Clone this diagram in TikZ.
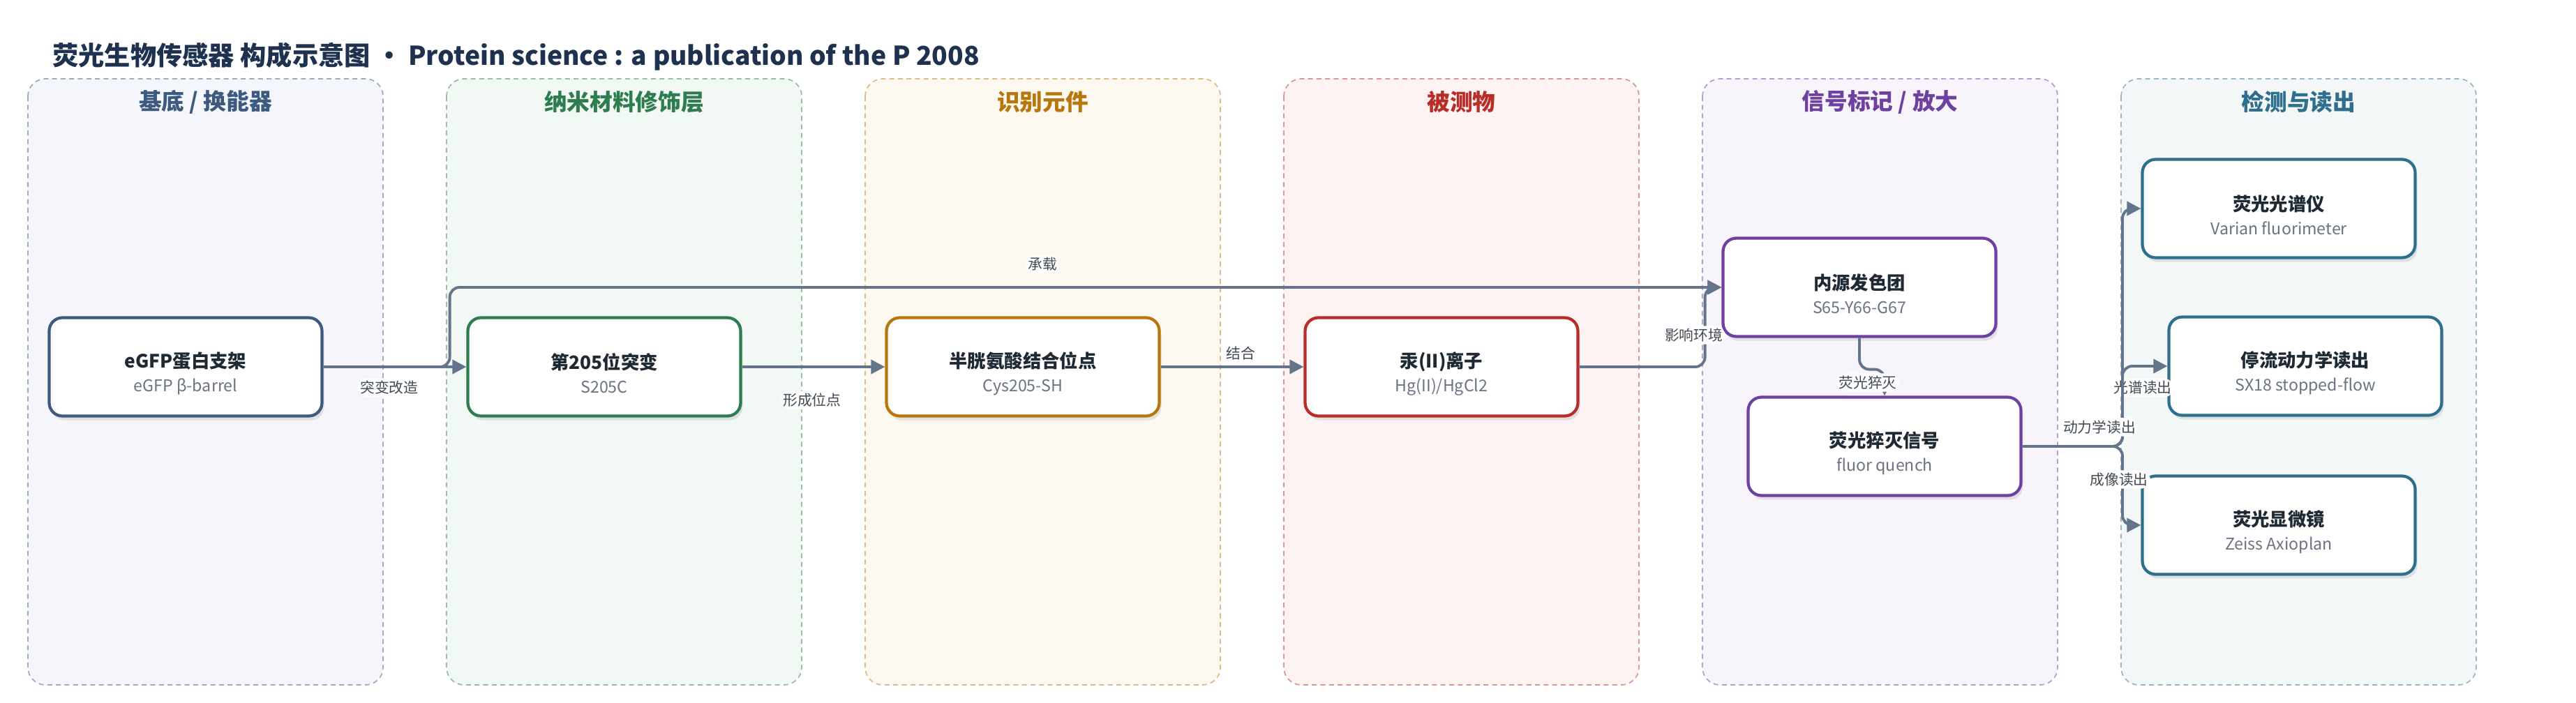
\documentclass[tikz,border=0pt]{standalone}
\usepackage{fontspec}
\setmainfont{Noto Sans CJK SC}
\setsansfont{Noto Sans CJK SC}
\usetikzlibrary{positioning, shadows, arrows.meta}

\definecolor{edgegray}{RGB}{100,116,139}
\definecolor{titlenavy}{RGB}{30,50,80}
\definecolor{textdark}{RGB}{31,41,51}
\definecolor{textgray}{RGB}{107,114,128}
\definecolor{laneA}{RGB}{61,90,128}
\definecolor{laneB}{RGB}{46,125,79}
\definecolor{laneC}{RGB}{183,119,13}
\definecolor{laneD}{RGB}{185,45,40}
\definecolor{laneE}{RGB}{110,64,160}
\definecolor{laneF}{RGB}{46,111,142}
\definecolor{fillA}{RGB}{245,246,251}
\definecolor{fillB}{RGB}{242,248,244}
\definecolor{fillC}{RGB}{253,248,240}
\definecolor{fillD}{RGB}{253,243,242}
\definecolor{fillE}{RGB}{247,244,251}
\definecolor{fillF}{RGB}{243,247,248}

\newcommand{\subt}[1]{{\fontsize{6.6}{9.7}\selectfont\mdseries\color{textgray}#1}}
\newcommand{\blktext}[2]{\rule{0pt}{12pt}#1\\\subt{#2}}

\begin{document}
\begin{tikzpicture}[font=\sffamily,
    lane/.style={rounded corners=0.25cm, line width=0.5pt, dash pattern=on 2pt off 1.5pt},
    lanetitle/.style={font=\sffamily\bfseries\fontsize{9.3}{11}\selectfont},
    blk/.style={rectangle, rounded corners=0.19cm, minimum width=3.91cm, minimum height=1.41cm,
        fill=white, line width=1.2pt, align=center, text=textdark,
        font=\sffamily\bfseries\fontsize{7.5}{9.7}\selectfont,
        drop shadow={shadow xshift=0.03cm, shadow yshift=-0.06cm, opacity=0.18}},
    edge/.style={draw=edgegray, line width=1.1pt, rounded corners=0.14cm,
        -{Triangle[length=0.2cm, width=0.2cm]}},
    lbl/.style={fill=white, inner sep=1pt, text=textdark!85, font=\sffamily\fontsize{5.9}{7}\selectfont}]

\useasboundingbox (0,0) rectangle (36.92,-10.07);

% title
\node[anchor=west, text=titlenavy, font=\sffamily\bfseries\fontsize{10.6}{13}\selectfont] (title) at (0.63,-0.81)
    {荧光生物传感器 构成示意图 · Protein science : a publication of the P 2008};

% lanes
\foreach \i/\col/\bg/\name in {0/laneA/fillA/{基底 / 换能器}, 1/laneB/fillB/{纳米材料修饰层},
                               2/laneC/fillC/{识别元件}, 3/laneD/fillD/{被测物},
                               4/laneE/fillE/{信号标记 / 放大}, 5/laneF/fillF/{检测与读出}} {
    \draw[lane, draw=\col!50, fill=\bg] (0.40+6*\i,-1.13) rectangle ++(5.09,-8.69);
    \node[lanetitle, text=\col] (lane\i) at (2.945+6*\i,-1.46) {\name};
}

% blocks
\node[blk, draw=laneA] (egfp) at (2.66,-5.26) {\blktext{eGFP蛋白支架}{eGFP β-barrel}};
\node[blk, draw=laneB] (mut) at (8.66,-5.26) {\blktext{第205位突变}{S205C}};
\node[blk, draw=laneC] (cys) at (14.66,-5.26) {\blktext{半胱氨酸结合位点}{Cys205-SH}};
\node[blk, draw=laneD] (hg) at (20.66,-5.26) {\blktext{汞(II)离子}{Hg(II)/HgCl2}};
\node[blk, draw=laneE] (chrom) at (26.65,-4.12) {\blktext{内源发色团}{S65-Y66-G67}};
\node[blk, draw=laneE] (quench) at (27.01,-6.40) {\blktext{荧光猝灭信号}{fluor quench}};
\node[blk, draw=laneF] (spec) at (32.66,-2.99) {\blktext{荧光光谱仪}{Varian fluorimeter}};
\node[blk, draw=laneF] (stop) at (33.04,-5.25) {\blktext{停流动力学读出}{SX18 stopped-flow}};
\node[blk, draw=laneF] (micro) at (32.66,-7.53) {\blktext{荧光显微镜}{Zeiss Axioplan}};

% connectors
\draw[edge] (egfp.east) -- (mut.west) node[lbl, pos=0.46, yshift=-0.3cm] {突变改造};
\draw[edge] (egfp.east) -- ++(1.81,0) |- (chrom.west) node[lbl, pos=0.733, yshift=0.33cm] {承载};
\draw[edge] (mut.east) -- (cys.west) node[lbl, pos=0.49, yshift=-0.48cm] {形成位点};
\draw[edge] (cys.east) -- (hg.west) node[lbl, pos=0.56, yshift=0.19cm] {结合};
\draw[edge] (hg.east) -- ++(1.8,0) |- (chrom.west) node[lbl, pos=0.2, xshift=-0.16cm] {影响环境};
\draw[edge] (chrom.south) -- ++(0,-0.45) -| (quench.north) node[lbl, pos=0.75, xshift=-0.24cm] {荧光猝灭};

\coordinate (br) at (30.42,-6.40);
\draw[edge] (quench.east) -- (br) |- (spec.west) node[lbl, pos=0.123, xshift=0.29cm] {光谱读出};
\draw[edge] (quench.east) -- (br) |- (stop.west) node[lbl, pos=0.12, xshift=-0.33cm] {动力学读出};
\draw[edge] (quench.east) -- (br) |- (micro.west) node[lbl, pos=0.21, xshift=-0.05cm] {成像读出};

\end{tikzpicture}
\end{document}
